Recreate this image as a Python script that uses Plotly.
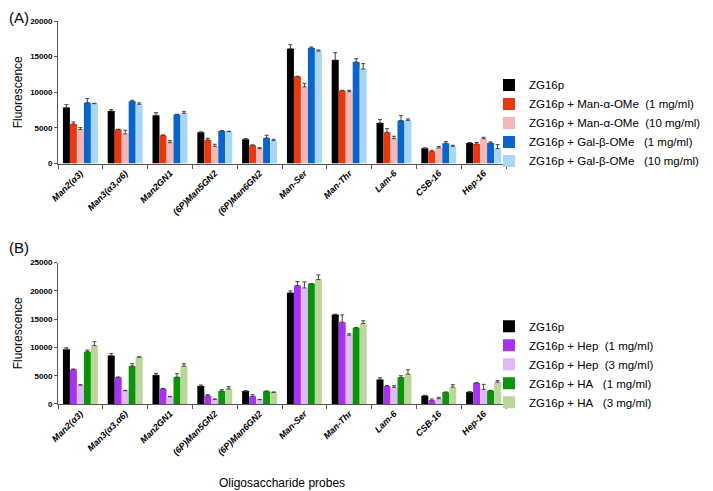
import plotly.graph_objects as go

probes = ["Man2(α3)", "Man3(α3,α6)", "Man2GN1", "(6P)Man5GN2", "(6P)Man6GN2",
          "Man-Ser", "Man-Thr", "Lam-6", "CSB-16", "Hep-16"]

# Panel A
names_a = ["ZG16p", "ZG16p + Man-α-OMe  (1 mg/ml)", "ZG16p + Man-α-OMe  (10 mg/ml)",
           "ZG16p + Gal-β-OMe   (1 mg/ml)", "ZG16p + Gal-β-OMe   (10 mg/ml)"]
colors_a = ["#000000", "#E8380D", "#F4B8B6", "#0A64CA", "#A8D6F8"]
a_zg = [7850, 7380, 6780, 4390, 3410, 16120, 14530, 5700, 2150, 2900]
a_man1 = [5560, 4770, 3970, 3320, 2570, 12200, 10230, 4390, 1730, 2760]
a_man10 = [4770, 4160, 2940, 2430, 2100, 10750, 10090, 3500, 2200, 3500]
a_gal1 = [8550, 8740, 6870, 4580, 3600, 16210, 14250, 6030, 2850, 2900]
a_gal10 = [8410, 8320, 7060, 4490, 3220, 15790, 13270, 6070, 2430, 2100]
a_zg_err = [420, 190, 370, 60, 100, 560, 1030, 470, 60, 60]
a_man1_err = [280, 50, 40, 230, 50, 50, 50, 510, 140, 190]
a_man10_err = [280, 520, 280, 280, 140, 510, 190, 330, 190, 190]
a_gal1_err = [560, 140, 50, 50, 370, 140, 470, 700, 230, 140]
a_gal10_err = [50, 190, 230, 40, 190, 140, 750, 190, 140, 560]

# Panel B
names_b = ["ZG16p", "ZG16p + Hep  (1 mg/ml)", "ZG16p + Hep  (3 mg/ml)",
           "ZG16p + HA   (1 mg/ml)", "ZG16p + HA   (3 mg/ml)"]
colors_b = ["#000000", "#A633F2", "#E2B9F7", "#0B930B", "#BBD69B"]
b_zg = [9700, 8590, 5120, 3180, 2290, 19650, 15820, 4350, 1470, 2120]
b_hep1 = [6120, 4710, 2700, 1470, 1350, 20940, 14470, 3180, 650, 3710]
b_hep3 = [3350, 2350, 1290, 820, 760, 20530, 12180, 2940, 940, 2590]
b_ha1 = [9240, 6710, 4760, 2290, 2240, 21240, 13470, 4710, 2060, 2350]
b_ha3 = [10350, 8290, 6710, 2650, 2060, 22000, 14240, 5290, 3000, 3880]
b_zg_err = [240, 350, 290, 180, 60, 350, 60, 290, 60, 60]
b_hep1_err = [60, 60, 60, 180, 290, 700, 1290, 60, 240, 60]
b_hep3_err = [60, 60, 60, 60, 60, 1060, 240, 290, 240, 880]
b_ha1_err = [290, 410, 590, 240, 60, 60, 60, 290, 60, 60]
b_ha3_err = [650, 60, 410, 410, 60, 820, 470, 760, 410, 240]

series_a = [a_zg, a_man1, a_man10, a_gal1, a_gal10]
errs_a = [a_zg_err, a_man1_err, a_man10_err, a_gal1_err, a_gal10_err]
series_b = [b_zg, b_hep1, b_hep3, b_ha1, b_ha3]
errs_b = [b_zg_err, b_hep1_err, b_hep3_err, b_ha1_err, b_ha3_err]

FONT = "Liberation Sans, Arial, sans-serif"
NB = lambda s: s.replace("  ", "\u00a0\u00a0").replace("\u00a0 ", "\u00a0\u00a0")

fig = go.Figure()
for name, col, vals, err in zip(names_a, colors_a, series_a, errs_a):
    fig.add_trace(go.Bar(
        x=probes, y=vals, name=NB(name), marker=dict(color=col, line=dict(width=0)),
        error_y=dict(type="data", array=err, arrayminus=[0] * len(err), symmetric=False,
                     color="#444444", thickness=1, width=2),
        xaxis="x", yaxis="y", legend="legend"))
for name, col, vals, err in zip(names_b, colors_b, series_b, errs_b):
    fig.add_trace(go.Bar(
        x=probes, y=vals, name=NB(name), marker=dict(color=col, line=dict(width=0)),
        error_y=dict(type="data", array=err, arrayminus=[0] * len(err), symmetric=False,
                     color="#444444", thickness=1, width=2),
        xaxis="x2", yaxis="y2", legend="legend2"))

xcommon = dict(
    type="category", tickangle=-45, ticks="outside", ticklen=4, tickson="boundaries",
    tickcolor="#555", showline=True, linecolor="#555", linewidth=1, showgrid=False,
    automargin=False,
    tickfont=dict(family=FONT, size=9, color="#000", weight="bold", style="italic"),
)
ycommon = dict(
    ticks="outside", ticklen=3, tickcolor="#555", showline=True, linecolor="#555",
    linewidth=1, showgrid=False, zeroline=False, automargin=False, tickformat="d",
    tickfont=dict(family=FONT, size=8, color="#000", weight="bold"),
    title=dict(text="Fluorescence", font=dict(family=FONT, size=12, color="#000"), standoff=4),
)

legcommon = dict(
    font=dict(family=FONT, size=11.5, color="#000"), bgcolor="rgba(0,0,0,0)",
    xanchor="left", yanchor="top", tracegroupgap=0, itemclick=False,
)

# The page has an 8px body margin, so the figure is 8px smaller than the window.
fig.update_layout(
    width=705, height=483,
    margin=dict(l=50, r=207, t=12.7, b=87.3, autoexpand=False),
    paper_bgcolor="white", plot_bgcolor="white",
    barmode="group", bargap=0.22, bargroupgap=0,
    font=dict(family=FONT, color="#000"),
    xaxis=dict(domain=[0, 1], anchor="y", **xcommon),
    yaxis=dict(domain=[0.6277, 1], range=[0, 20000], dtick=5000, **ycommon),
    xaxis2=dict(domain=[0, 1], anchor="y2", **xcommon),
    yaxis2=dict(domain=[0, 0.3692], range=[0, 25000], dtick=5000, **ycommon),
    legend=dict(x=0.962, y=0.871, **legcommon),
    legend2=dict(x=0.962, y=0.241, **legcommon),
    annotations=[
        dict(text="(A)", x=0, y=1, xref="paper", yref="paper", xanchor="left", yanchor="top",
             xshift=-51, yshift=14, showarrow=False, font=dict(family=FONT, size=15, color="#000")),
        dict(text="(B)", x=0, y=0.3692, xref="paper", yref="paper", xanchor="left", yanchor="middle",
             xshift=-51, yshift=15, showarrow=False, font=dict(family=FONT, size=15, color="#000")),
        dict(text="Oligosaccharide probes", x=0.5, y=0, xref="paper", yref="paper",
             xanchor="center", yanchor="middle", yshift=-79, showarrow=False,
             font=dict(family=FONT, size=12, color="#000")),
    ],
)

fig.write_html("out.html")
